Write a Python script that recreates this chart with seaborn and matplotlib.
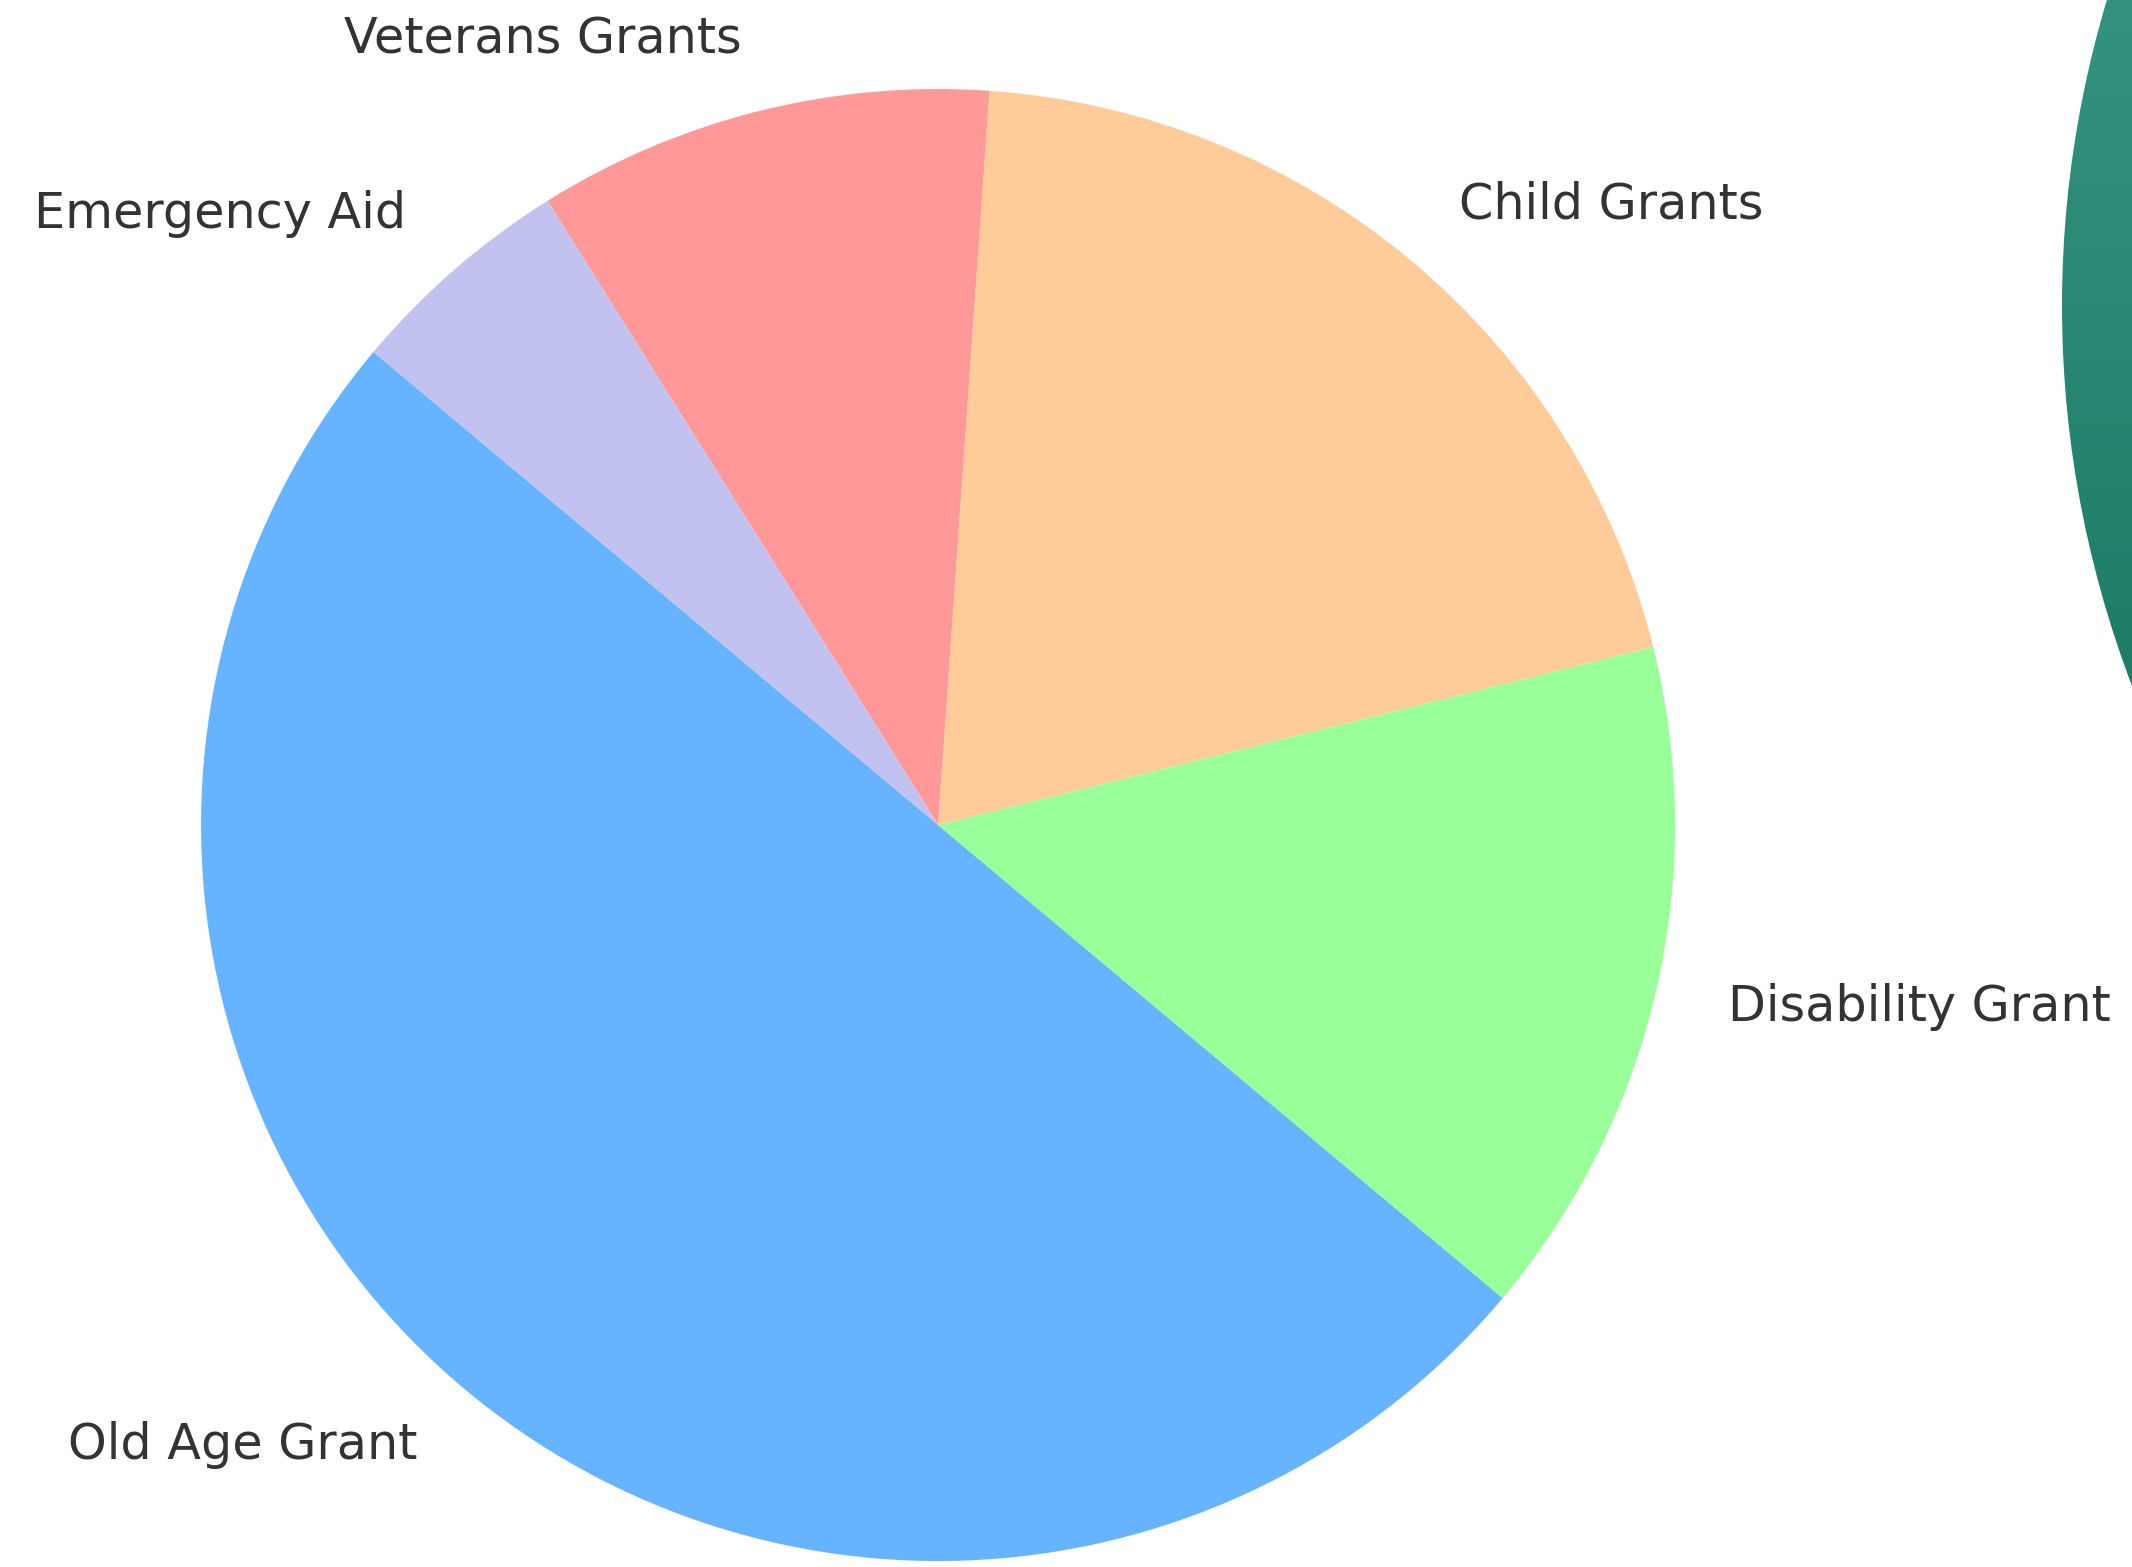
import numpy as np
import matplotlib.pyplot as plt
from matplotlib.patches import Circle
from matplotlib.colors import LinearSegmentedColormap
import seaborn as sns

labels = ["Old Age Grant", "Disability Grant", "Child Grants", "Veterans Grants", "Emergency Aid"]
shares = [50, 15, 20, 10, 5]
colors = ["#66b3ff", "#99ff99", "#ffcc99", "#ff9999", "#c2c2f0"]

sns.set_theme(style="white")
plt.rcParams['font.family'] = ['DejaVu Sans']

fig = plt.figure(figsize=(10.66, 7.835), dpi=200)

# decorative teal disc, cut off by the right edge
bg = fig.add_axes([0, 0, 1, 1])
teal = LinearSegmentedColormap.from_list("teal", ["#34937f", "#1c7c66"])
grad = np.linspace(0, 1, 256).reshape(-1, 1)
img = bg.imshow(grad, cmap=teal, extent=[2050, 2132, 700, 0], aspect='auto')
img.set_clip_path(Circle((3128, 306), 1066, transform=bg.transData))
bg.set_xlim(0, 2132)
bg.set_ylim(1567, 0)
bg.axis('off')

# pie
ax = fig.add_axes([0.0943, 0.0038, 0.6914, 0.9394])
ax.pie(shares, labels=labels, colors=colors, startangle=140,
       wedgeprops={'linewidth': 0, 'edgecolor': 'none'},
       textprops={'fontsize': 17.75, 'color': '#333333'})
ax.set_xlim(-1, 1)
ax.set_ylim(-1, 1)
ax.set_aspect('auto')

fig.savefig("out.png", dpi=200)
